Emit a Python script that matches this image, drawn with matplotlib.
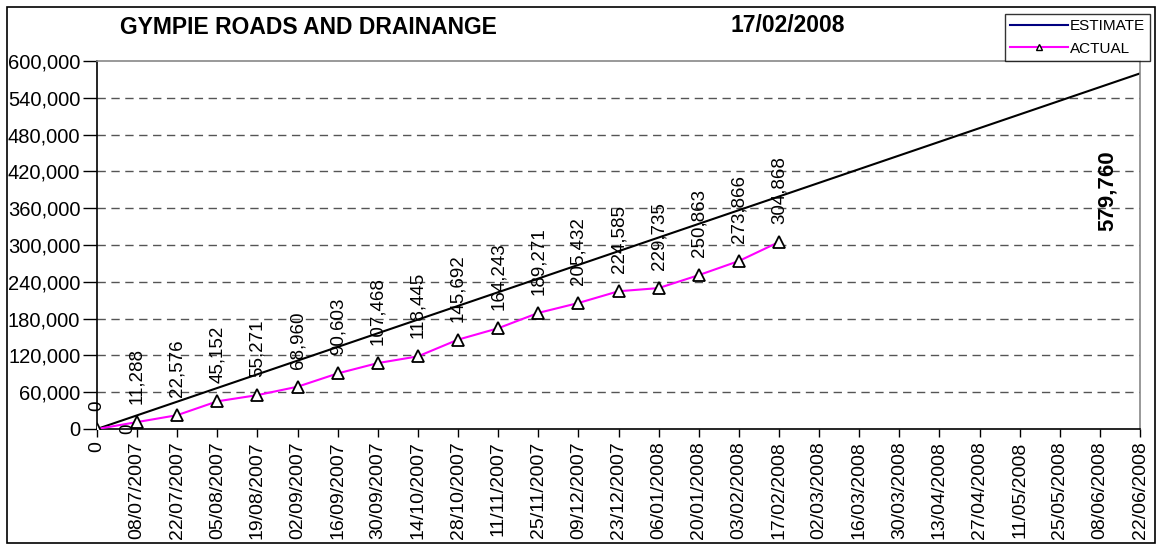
import numpy as np
import matplotlib
matplotlib.use("Agg")
import matplotlib.pyplot as plt
from matplotlib.lines import Line2D
from matplotlib.patches import Rectangle

plt.rcParams["font.family"] = ["Liberation Sans", "DejaVu Sans"]

# Category labels along the x axis
dates = ["0", "08/07/2007", "22/07/2007", "05/08/2007", "19/08/2007", "02/09/2007",
         "16/09/2007", "30/09/2007", "14/10/2007", "28/10/2007", "11/11/2007",
         "25/11/2007", "09/12/2007", "23/12/2007", "06/01/2008", "20/01/2008",
         "03/02/2008", "17/02/2008", "02/03/2008", "16/03/2008", "30/03/2008",
         "13/04/2008", "27/04/2008", "11/05/2008", "25/05/2008", "08/06/2008",
         "22/06/2008"]

# Actual cumulative values (up to 17/02/2008)
actual = [0, 11288, 22576, 45152, 55271, 68960, 90603, 107468, 118445, 145692,
          164243, 189271, 205432, 224585, 229735, 250863, 273866, 304868]

# Estimate: start and end of the straight line
estimate = [0, 579760]

yticks = np.arange(0, 600001, 60000)

fig = plt.figure(figsize=(11.61, 5.45), dpi=100)
ax = fig.add_axes([97 / 1161, 1 - 429 / 545, (1140 - 97) / 1161, (429 - 61) / 545])

x_all = np.arange(len(dates))
x_act = x_all[:len(actual)]
x_est = [x_all[0], x_all[-1]]

# Grid
for v in yticks[1:-1]:
    ax.axhline(v, color="#555555", lw=1, ls=(0, (6, 4)), zorder=0)

ax.plot(x_est, estimate, color="black", lw=1.5, zorder=2)
ax.plot(x_act, actual, color="#FF00FF", lw=1.5, marker="^", markersize=9,
        markerfacecolor="white", markeredgecolor="black", markeredgewidth=1.3, zorder=3)

# Data labels on actual series
for xi, v in zip(x_act, actual):
    ax.annotate(f"{v:,}", (xi, v), xytext=(0, 13), textcoords="offset points",
                rotation=90, ha="center", va="bottom", fontsize=13.5)

# Estimate labels
ax.annotate(f"{estimate[0]:,}", (x_est[0], estimate[0]), xytext=(22, 0),
            textcoords="offset points", rotation=90, ha="center", va="center", fontsize=13.5)
ax.text(0.969, 0.647, f"{estimate[1]:,}", transform=ax.transAxes, rotation=90,
        ha="center", va="center", fontsize=16, fontweight="bold")

ax.set_xlim(0, len(dates) - 1)
ax.set_ylim(0, 600000)
ax.set_xticks(x_all)
ax.set_xticklabels(dates, rotation=90, fontsize=14)
ax.set_yticks(yticks)
ax.set_yticklabels([f"{v:,}" for v in yticks], fontsize=14.5)
ax.tick_params(axis="x", direction="out", length=6, width=1, color="black", pad=3)
ax.tick_params(axis="y", direction="out", length=10, width=1, color="black", pad=2)

for s in ["left", "bottom"]:
    ax.spines[s].set_color("black")
    ax.spines[s].set_linewidth(1.2)
for s in ["top", "right"]:
    ax.spines[s].set_color("#888888")
    ax.spines[s].set_linewidth(1.2)

# Titles
fig.text(308 / 1161, 1 - 28 / 545, "GYMPIE ROADS AND DRAINANGE", ha="center", va="center",
         fontsize=16.5, fontweight="bold")
fig.text(788 / 1161, 1 - 26 / 545, "17/02/2008", ha="center", va="center",
         fontsize=16.5, fontweight="bold")

# Legend
handles = [Line2D([], [], color="#000080", lw=1.5),
           Line2D([], [], color="#FF00FF", lw=1.5, marker="^", markersize=5,
                  markerfacecolor="white", markeredgecolor="black")]
leg = fig.legend(handles, ["ESTIMATE", "ACTUAL"], loc="upper right",
                 bbox_to_anchor=(1150 / 1161, 1 - 14 / 545), fontsize=11,
                 frameon=True, fancybox=False, edgecolor="black", handlelength=3.8,
                 handletextpad=0.1, borderpad=0.35, labelspacing=0.55, borderaxespad=0)
leg.get_frame().set_linewidth(1)

# Outer border
fig.patches.append(Rectangle((7 / 1161, 2 / 545), 1148 / 1161, 536 / 545,
                             transform=fig.transFigure, fill=False, edgecolor="black", lw=1.2))

fig.savefig("out.png", dpi=100)
